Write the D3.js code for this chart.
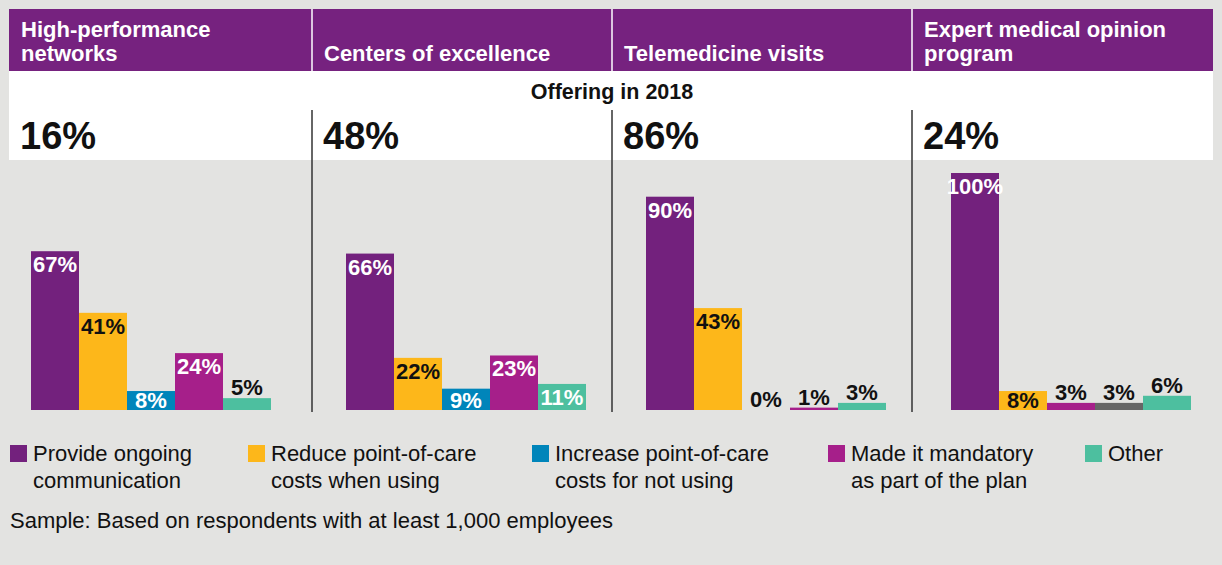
<!DOCTYPE html>
<html>
<head>
<meta charset="utf-8">
<script src="https://cdn.jsdelivr.net/npm/d3@7"></script>
<style>
  html, body { margin: 0; padding: 0; background: #e3e3e1; }
  svg { display: block; font-family: "Liberation Sans", Arial, sans-serif; }
</style>
</head>
<body>
<div id="chart"></div>
<script>
// ---- data ----
const panelTitles = [
    ["High-performance", "networks"],
    ["Centers of excellence"],
    ["Telemedicine visits"],
    ["Expert medical opinion", "program"]
];
const offering = [16, 48, 86, 24];

const seriesNames = [
    ["Provide ongoing", "communication"],
    ["Reduce point-of-care", "costs when using"],
    ["Increase point-of-care", "costs for not using"],
    ["Made it mandatory", "as part of the plan"],
    ["Other"]
];
const communication = [67, 66, 90, 100];
const reduceCost = [41, 22, 43, 8];
const increaseCost = [8, 9, 0, 3];
const mandatory = [24, 23, 1, 3];
const other = [5, 11, 3, 6];

const seriesColors = ["#73217d", "#fdb71a", "#0085ba", "#a61f8a", "#4dbf9f"];
// last panel is drawn with magenta + grey in the original
const lastPanelColors = ["#73217d", "#fdb71a", "#a61f8a", "#666666", "#4dbf9f"];

const ctx = {
    W: 1222,
    H: 565,
    purple: "#76227f",
    panelX: [9, 312, 612, 912, 1213],
    barStart: [31, 346, 646, 951],
    barW: 48,
    baseY: 410,
    topY: 173
};

const svg = d3.select("#chart").append("svg")
    .attr("width", ctx.W)
    .attr("height", ctx.H);

// header band
svg.append("rect")
    .attr("x", 9).attr("y", 9)
    .attr("width", 1204).attr("height", 62)
    .attr("fill", ctx.purple);

svg.append("rect")
    .attr("x", 9).attr("y", 71)
    .attr("width", 1204).attr("height", 89)
    .attr("fill", "#ffffff");

// separators
[1, 2, 3].forEach(i => {
    svg.append("line")
        .attr("x1", ctx.panelX[i]).attr("x2", ctx.panelX[i])
        .attr("y1", 9).attr("y2", 71)
        .attr("stroke", "#ffffff").attr("stroke-width", 1.5);
    svg.append("line")
        .attr("x1", ctx.panelX[i]).attr("x2", ctx.panelX[i])
        .attr("y1", 110).attr("y2", 412)
        .attr("stroke", "#333333").attr("stroke-width", 1.5);
});

// panel titles (bottom aligned)
panelTitles.forEach((lines, i) => {
    const t = svg.append("text")
        .attr("fill", "#ffffff")
        .attr("font-size", 22)
        .attr("font-weight", "bold");
    lines.forEach((l, j) => {
        t.append("tspan")
            .attr("x", ctx.panelX[i] + 12)
            .attr("y", 61 - (lines.length - 1 - j) * 24)
            .text(l);
    });
});

svg.append("text")
    .attr("x", 612).attr("y", 99)
    .attr("text-anchor", "middle")
    .attr("font-size", 21.5)
    .attr("font-weight", "bold")
    .attr("fill", "#111")
    .text("Offering in 2018");

offering.forEach((v, i) => {
    svg.append("text")
        .attr("x", ctx.panelX[i] + 11)
        .attr("y", 149)
        .attr("font-size", 38)
        .attr("font-weight", "bold")
        .attr("fill", "#111")
        .text(v + "%");
});

// bars
const series = [communication, reduceCost, increaseCost, mandatory, other];
const y = d3.scaleLinear().domain([0, 100]).range([ctx.baseY, ctx.topY]);

ctx.barStart.forEach((x0, p) => {
    const x = d3.scaleBand()
        .domain(d3.range(series.length))
        .range([x0, x0 + ctx.barW * series.length])
        .padding(0);
    const colors = p === 3 ? lastPanelColors : seriesColors;
    const data = series.map((s, k) => ({ k: k, v: s[p], color: colors[k] }));

    const g = svg.append("g").attr("class", "panel-" + p);

    g.selectAll("rect")
        .data(data)
        .enter()
        .append("rect")
        .attr("x", d => x(d.k))
        .attr("y", d => y(d.v))
        .attr("width", x.bandwidth())
        .attr("height", d => ctx.baseY - y(d.v))
        .attr("fill", d => d.color);

    g.selectAll("text")
        .data(data)
        .enter()
        .append("text")
        .attr("x", d => x(d.k) + x.bandwidth() / 2)
        .attr("y", d => d.v >= 8 ? Math.min(y(d.v) + 21, ctx.baseY - 2) : y(d.v) - 3)
        .attr("text-anchor", "middle")
        .attr("font-size", 22)
        .attr("font-weight", "bold")
        .attr("fill", d => (d.v < 8 || d.color === "#fdb71a") ? "#111" : "#ffffff")
        .text(d => d.v + "%");
});

// legend
const legendX = [10, 248, 532, 828, 1085];
seriesNames.forEach((lines, i) => {
    svg.append("rect")
        .attr("x", legendX[i]).attr("y", 445)
        .attr("width", 17).attr("height", 17)
        .attr("fill", seriesColors[i]);
    const t = svg.append("text")
        .attr("font-size", 22)
        .attr("fill", "#111");
    lines.forEach((l, j) => {
        t.append("tspan")
            .attr("x", legendX[i] + 23)
            .attr("y", 461 + j * 27)
            .text(l);
    });
});

svg.append("text")
    .attr("x", 10).attr("y", 528)
    .attr("font-size", 22)
    .attr("fill", "#111")
    .text("Sample: Based on respondents with at least 1,000 employees");
</script>
</body>
</html>
